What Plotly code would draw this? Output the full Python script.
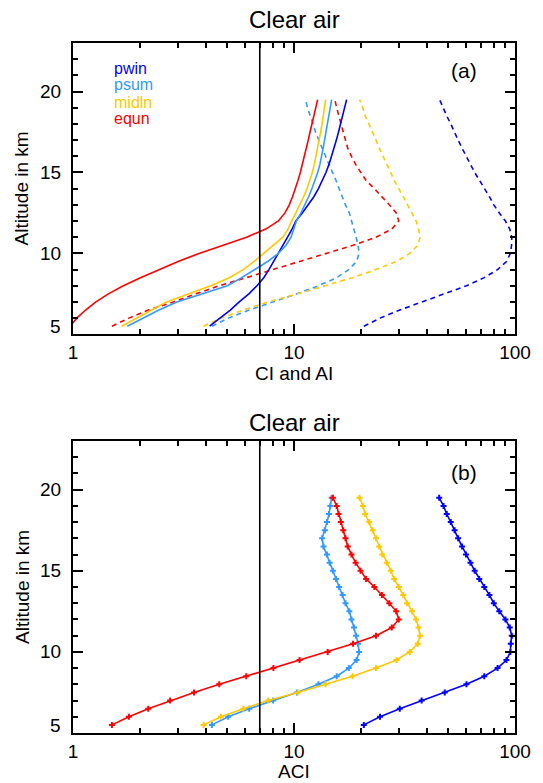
import plotly.graph_objects as go

# ---------------- data ----------------
ALT = [5.5, 6.0, 6.5, 7.0, 7.5, 8.0, 8.5, 9.0, 9.5, 10.0, 10.5, 11.0, 11.5, 12.0,
       12.5, 13.0, 13.5, 14.0, 14.5, 15.0, 15.5, 16.0, 16.5, 17.0, 17.5, 18.0,
       18.5, 19.0, 19.5]

SERIES = ["pwin", "psum", "midln", "equn"]
COLORS = {"pwin": "#0000FF", "psum": "#3399FF", "midln": "#FFC800", "equn": "#FF0000"}

# CI (solid lines, panel a)
CI_pwin = [4.15, 4.65, 5.15, 5.65, 6.25, 6.8, 7.3, 7.7, 8.1, 8.5, 8.9, 9.35, 9.8, 10.2,
           10.9, 11.6, 12.3, 12.9, 13.45, 13.95, 14.4, 14.8, 15.2, 15.55, 15.9, 16.25,
           16.6, 16.95, 17.3]
CI_psum = [1.76, 2.07, 2.45, 2.95, 3.85, 5.0, 5.8, 6.6, 7.6, 8.5, 9.2, 9.7, 10.0, 10.25,
           10.75, 11.2, 11.65, 12.05, 12.45, 12.8, 13.1, 13.35, 13.55, 13.75, 13.95, 14.15,
           14.35, 14.57, 14.8]
CI_midln = [1.66, 1.93, 2.25, 2.65, 3.35, 4.2, 5.1, 5.9, 6.6, 7.3, 8.1, 8.9, 9.4, 9.75,
            10.2, 10.65, 11.05, 11.45, 11.8, 12.1, 12.35, 12.58, 12.8, 13.0, 13.2, 13.4,
            13.58, 13.75, 13.9]
CI_equn = [0.97, 1.04, 1.14, 1.27, 1.445, 1.69, 2.02, 2.44, 2.99, 3.72, 4.73, 6.1, 7.45, 8.5,
           9.1, 9.52, 9.85, 10.15, 10.42, 10.68, 10.92, 11.15, 11.38, 11.6, 11.82, 12.04,
           12.26, 12.5, 12.8]

# AI (dashed lines, panel a)
AI_pwin = [20.7, 24.5, 30.1, 37.8, 48.1, 60.3, 72.6, 83.4, 91.5, 95.3, 96.5, 96.7, 94.7,
           90.5, 84.9, 80.2, 76.6, 72.6, 68.9, 65.7, 62.9, 60.0, 57.6, 55.3, 53.3, 51.2,
           49.1, 47.5, 45.6]
AI_psum = [4.25, 5.04, 6.27, 8.05, 10.3, 12.9, 15.6, 17.7, 19.2, 19.7, 19.5, 19.1, 18.7,
           18.2, 17.8, 17.1, 16.6, 16.0, 15.5, 15.0, 14.4, 13.9, 13.4, 12.9, 12.5, 12.2,
           11.8, 11.5, 11.3]
AI_midln = [3.90, 4.67, 5.9, 7.65, 10.4, 13.9, 18.4, 23.5, 29.1, 33.4, 36.3, 37.2, 36.6,
            35.7, 34.2, 32.5, 31.2, 29.8, 28.4, 27.4, 26.3, 25.1, 24.3, 23.5, 22.7, 21.9,
            21.0, 20.5, 19.8]
AI_equn = [1.50, 1.79, 2.19, 2.85, 3.6, 4.59, 6.08, 8.07, 10.6, 14.2, 18.5, 23.5, 27.7,
           29.8, 29.0, 27.0, 25.0, 23.1, 21.2, 20.0, 19.0, 18.2, 17.5, 17.1, 16.7, 16.3,
           15.9, 15.6, 15.3]

# ACI (panel b)
ACI_pwin = [20.7, 24.5, 30.1, 37.8, 48.1, 60.3, 72.6, 83.4, 91.5, 95.3, 95.7, 96.7, 94.7,
            90.5, 84.9, 80.2, 76.6, 72.6, 68.9, 65.7, 62.9, 60.0, 57.6, 55.3, 53.3, 51.2,
            49.1, 47.5, 45.4]
ACI_psum = [4.25, 5.04, 6.27, 8.05, 10.3, 12.9, 15.6, 17.7, 19.2, 19.7, 19.5, 19.1, 18.7,
            18.2, 17.8, 17.1, 16.6, 16.0, 15.5, 15.0, 14.5, 14.1, 13.6, 13.4, 13.8, 14.1,
            14.4, 14.6, 14.8]
ACI_midln = [3.90, 4.67, 5.9, 7.65, 10.4, 13.9, 18.4, 23.5, 29.1, 33.4, 36.3, 37.2, 36.6,
             35.7, 34.2, 32.5, 31.2, 29.8, 28.4, 27.4, 26.3, 25.1, 24.3, 23.5, 22.7, 21.9,
             21.0, 20.5, 19.8]
ACI_equn = [1.50, 1.79, 2.19, 2.75, 3.53, 4.59, 6.08, 8.07, 10.6, 14.2, 18.5, 23.5, 27.7,
            29.8, 29.0, 27.0, 25.0, 23.1, 21.2, 20.0, 19.0, 18.2, 17.5, 17.1, 16.7, 16.3,
            15.9, 15.6, 15.0]

CI = {"pwin": CI_pwin, "psum": CI_psum, "midln": CI_midln, "equn": CI_equn}
AI = {"pwin": AI_pwin, "psum": AI_psum, "midln": AI_midln, "equn": AI_equn}
ACI = {"pwin": ACI_pwin, "psum": ACI_psum, "midln": ACI_midln, "equn": ACI_equn}

THRESHOLD = 7
X_TICKS = [1, 10, 100]
X_MINOR = [2, 3, 4, 5, 6, 7, 8, 9, 20, 30, 40, 50, 60, 70, 80, 90]
Y_TICKS = [5, 10, 15, 20]
Y_MINOR = [6, 7, 8, 9, 11, 12, 13, 14, 16, 17, 18, 19, 21, 22]
Y_RANGE = [5, 23]

TITLE = "Clear air"
XTITLE_A = "CI and AI"
XTITLE_B = "ACI"
YTITLE = "Altitude in km"

# ---------------- figure ----------------
FONT = "Liberation Sans, Arial, Helvetica, sans-serif"
fig = go.Figure()

for s in SERIES:
    fig.add_trace(go.Scatter(x=AI[s], y=ALT, mode="lines", xaxis="x", yaxis="y",
                             line=dict(color=COLORS[s], width=1.6, dash="5px,4px"),
                             showlegend=False))
for s in SERIES:
    fig.add_trace(go.Scatter(x=CI[s], y=ALT, mode="lines", xaxis="x", yaxis="y",
                             line=dict(color=COLORS[s], width=1.6),
                             showlegend=False))
for s in SERIES:
    fig.add_trace(go.Scatter(x=ACI[s], y=ALT, mode="lines+markers", xaxis="x2", yaxis="y2",
                             line=dict(color=COLORS[s], width=1.6),
                             marker=dict(symbol="cross", size=5, color=COLORS[s]),
                             showlegend=False))

L, R, T, B = 73, 20, 43, 50
W, H = 543, 783
PH = H - T - B
PW = W - L - R
top_b = 1 - (441 - T) / PH
bot_a = 1 - (334.3 - T) / PH

def py(p):
    return (H - B - p) / PH

def px(p):
    return (p - L) / PW

xax = dict(type="log", range=[0, 2], tickvals=X_TICKS, ticktext=[str(v) for v in X_TICKS],
           ticks="inside", ticklen=10, tickwidth=2, tickcolor="black", mirror="allticks",
           showline=True, linewidth=2, linecolor="black",
           showgrid=False, zeroline=False,
           tickfont=dict(size=19, color="black", family=FONT),
           minor=dict(tickvals=X_MINOR, ticks="inside", ticklen=5, tickwidth=2,
                      tickcolor="black", showgrid=False))
yax = dict(range=Y_RANGE, tickvals=Y_TICKS, showticklabels=False,
           ticks="inside", ticklen=10, tickwidth=2, tickcolor="black", mirror="allticks",
           showline=True, linewidth=2, linecolor="black",
           showgrid=False, zeroline=False,
           minor=dict(tickvals=Y_MINOR, ticks="inside", ticklen=5, tickwidth=2,
                      tickcolor="black", showgrid=False))

fig.update_layout(
    width=W, height=H,
    margin=dict(l=L, r=R, t=T, b=B),
    paper_bgcolor="white", plot_bgcolor="white",
    font=dict(family=FONT, color="black"),
    xaxis=dict(**xax, anchor="y"),
    yaxis=dict(**yax, domain=[bot_a, 1], anchor="x"),
    xaxis2=dict(**xax, anchor="y2"),
    yaxis2=dict(**yax, domain=[0, top_b], anchor="x2"),
)

for yr in ["y", "y2"]:
    xr = "x" if yr == "y" else "x2"
    fig.add_shape(type="line", xref=xr, yref=yr + " domain", x0=THRESHOLD, x1=THRESHOLD,
                  y0=0, y1=1, line=dict(color="black", width=1.6))

ann = []
# y tick labels
for yr in ["y", "y2"]:
    for v in Y_TICKS:
        ann.append(dict(x=px(63), xref="paper", y=v, yref=yr, text=str(v),
                        showarrow=False, xanchor="right", yanchor="middle",
                        yshift=8 if v == Y_TICKS[0] else 0,
                        font=dict(size=19, family=FONT, color="black")))
# titles
for ty in [20, 422]:
    ann.append(dict(x=0.5, y=py(ty), xref="paper", yref="paper", text=TITLE, showarrow=False,
                    xanchor="center", yanchor="middle",
                    font=dict(size=24, family=FONT, color="black")))
ann.append(dict(x=0.5, y=py(373), xref="paper", yref="paper", text=XTITLE_A, showarrow=False,
                xanchor="center", yanchor="middle",
                font=dict(size=19, family=FONT, color="black")))
ann.append(dict(x=0.5, y=py(772), xref="paper", yref="paper", text=XTITLE_B, showarrow=False,
                xanchor="center", yanchor="middle",
                font=dict(size=19, family=FONT, color="black")))
for cy in [(43 + 334) / 2, (441 + 733) / 2]:
    ann.append(dict(x=px(21), y=py(cy), xref="paper", yref="paper", text=YTITLE,
                    showarrow=False, textangle=-90, xanchor="center", yanchor="middle",
                    font=dict(size=19, family=FONT, color="black")))
# panel labels
ann.append(dict(x=px(471), y=py(70), xref="paper", yref="paper", text="(a)", showarrow=False,
                xanchor="center", yanchor="middle",
                font=dict(size=21, family=FONT, color="black")))
ann.append(dict(x=px(471), y=py(472), xref="paper", yref="paper", text="(b)", showarrow=False,
                xanchor="center", yanchor="middle",
                font=dict(size=21, family=FONT, color="black")))
# legend text
for i, s in enumerate(SERIES):
    ann.append(dict(x=px(113), y=py(68 + 17 * i), xref="paper", yref="paper", text=s,
                    showarrow=False, xanchor="left", yanchor="middle",
                    font=dict(size=16, family=FONT, color=COLORS[s])))

fig.update_layout(annotations=ann)
fig.write_html("out.html")
